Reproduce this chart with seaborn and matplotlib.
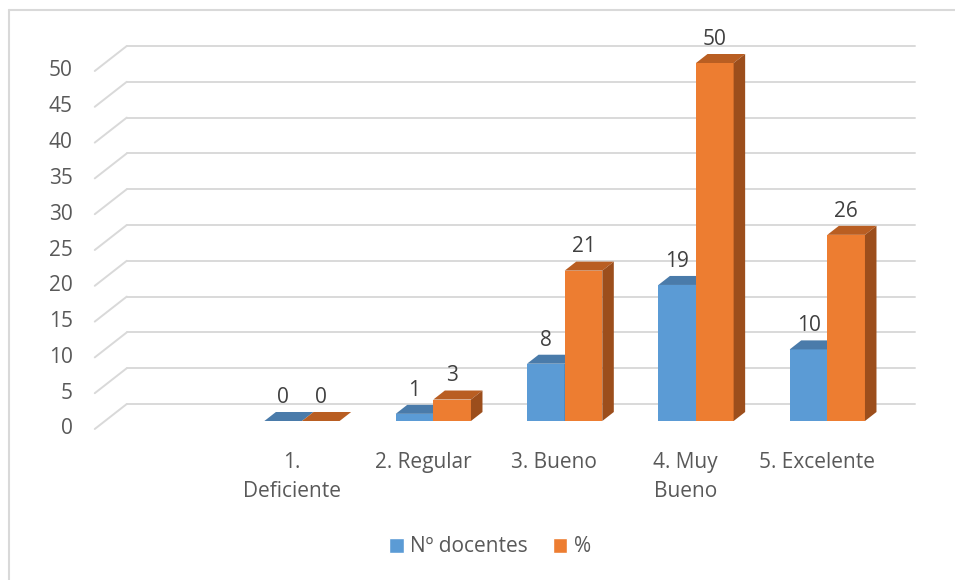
import matplotlib

matplotlib.use("Agg")
import matplotlib.pyplot as plt
import numpy as np
import pandas as pd
import seaborn as sns
from matplotlib.patches import Polygon
from matplotlib.lines import Line2D

categorias = ["1.\nDeficiente", "2. Regular", "3. Bueno", "4. Muy\nBueno", "5. Excelente"]
series = ["Nº docentes", "%"]
docentes = [0, 1, 8, 19, 10]
porcentaje = [0, 3, 21, 50, 26]
yticks = [0, 5, 10, 15, 20, 25, 30, 35, 40, 45, 50]

colores = {"Nº docentes": "#5B9BD5", "%": "#ED7D31"}
tapa = {"Nº docentes": "#4A7BAA", "%": "#B95E22"}
lado = {"Nº docentes": "#3F6A94", "%": "#9C4E1C"}

df = pd.DataFrame({
    "categoria": categorias * 2,
    "serie": [series[0]] * 5 + [series[1]] * 5,
    "valor": docentes + porcentaje,
})

sns.set_theme(style="white")
plt.rcParams["font.family"] = ["Open Sans", "DejaVu Sans"]

W, H = 955, 580
fig = plt.figure(figsize=(W / 100, H / 100), dpi=100)
# front plane of the bars: x -1.5..4.5 -> px 105..893, y 0..50 -> px 421..63
ax = fig.add_axes([105 / W, (H - 421) / H, 788 / W, 358 / H])

sns.barplot(data=df, x="categoria", y="valor", hue="serie", palette=colores,
            width=0.573, gap=0, saturation=1, ax=ax, legend=True)
ax.set_xlim(-1.5, 4.5)
ax.set_ylim(0, 50)

# depth vector (category units, value units) from the front wall to the back wall
px_x = 788 / 6
px_y = 358 / 50
D = np.array([32 / px_x, 25 / px_y])
t_front, t_bar0, t_bar1 = 0.0, 0.32, 0.68


def off(t):
    return (t - t_bar0) * D


grid = "#D9D9D9"
fs = 15
x_left, x_right = -1.5, 4.5
for v in yticks:
    a, b = off(0.0), off(1.0)
    ax.add_line(Line2D([x_left + a[0], x_left + b[0]], [v + a[1], v + b[1]],
                       color=grid, lw=1.4, clip_on=False, zorder=0))
    ax.add_line(Line2D([x_left + b[0], x_right + b[0]], [v + b[1], v + b[1]],
                       color=grid, lw=1.4, clip_on=False, zorder=0))
    ax.text(x_left + a[0], v + a[1], str(v), ha="right", va="center",
            fontsize=fs, color="#595959",
            transform=ax.transData + matplotlib.transforms.ScaledTranslation(-22 / 100, 0, fig.dpi_scale_trans))

# 3D faces for each bar
bar_depth = off(t_bar1)
for k, serie in enumerate(series):
    cont = ax.containers[k]
    for patch, val in zip(cont.patches, df[df["serie"] == serie]["valor"]):
        patch.set_zorder(3 + k)
        patch.set_edgecolor("none")
        patch.set_clip_on(False)
        x0 = patch.get_x()
        x1 = x0 + patch.get_width()
        h = patch.get_height()
        dx, dy = bar_depth
        top = Polygon([(x0, h), (x1, h), (x1 + dx, h + dy), (x0 + dx, h + dy)],
                      closed=True, facecolor=tapa[serie], edgecolor="none",
                      zorder=3 + k, clip_on=False)
        side = Polygon([(x1, 0), (x1, h), (x1 + dx, h + dy), (x1 + dx, dy)],
                       closed=True, facecolor=lado[serie], edgecolor="none",
                       zorder=3 + k, clip_on=False)
        ax.add_patch(top)
        ax.add_patch(side)
        ax.annotate(f"{val:g}", ((x0 + x1) / 2, h + dy), xytext=(0, 3),
                    textcoords="offset points", ha="center", va="bottom",
                    fontsize=fs, color="#404040", zorder=10, annotation_clip=False)

# category labels on the front wall
a = off(0.0)
ax.set_xticks(np.arange(len(categorias)) + a[0])
ax.set_xticklabels(categorias, fontsize=fs, color="#595959", linespacing=1.55)
ax.tick_params(axis="x", length=0, pad=22)
ax.set_yticks([])
ax.set_xlabel("")
ax.set_ylabel("")
sns.despine(ax=ax, left=True, bottom=True)

sns.move_legend(ax, "center", bbox_to_anchor=(490 / W, (H - 547) / H),
                bbox_transform=fig.transFigure, ncol=2, frameon=False, title=None,
                fontsize=fs, handlelength=0.7, handleheight=0.7, handletextpad=0.3,
                columnspacing=1.2, labelcolor="#595959")

# chart frame (only left and top edges are visible)
fig.add_artist(Line2D([9 / W, 9 / W], [0, 1 - 10 / H], color="#D9D9D9", lw=1.5,
                      transform=fig.transFigure))
fig.add_artist(Line2D([9 / W, 1], [1 - 10 / H, 1 - 10 / H], color="#D9D9D9", lw=1.5,
                      transform=fig.transFigure))

fig.savefig("out.png", dpi=100)
